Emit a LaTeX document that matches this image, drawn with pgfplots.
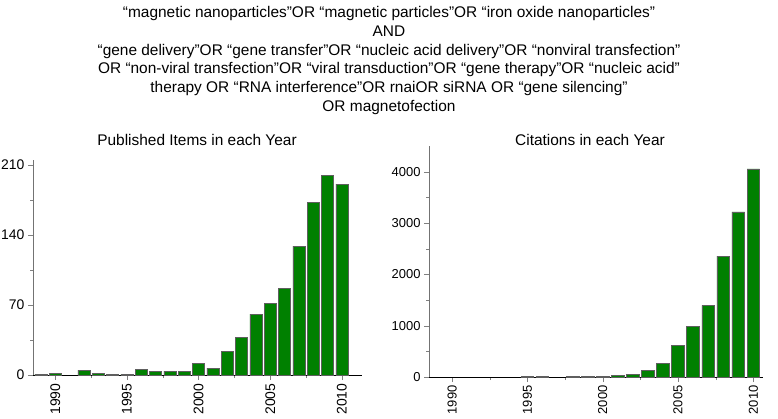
\documentclass[border=0pt]{standalone}
\usepackage{pgfplots}
\pgfplotsset{compat=1.18}
\usepackage{fontspec}
\setmainfont{Liberation Sans}
\definecolor{bargreen}{RGB}{0,128,0}
\definecolor{baredge}{RGB}{95,95,95}
\pgfplotsset{
  mybars/.style={
    scale only axis,
    anchor=south west,
    axis x line=bottom, axis y line=left,
    axis line style={-},
    y axis line style={black!55},
    tick align=outside,
    major tick length=5bp, minor tick length=3bp,
    xtick={1990,1995,2000,2005,2010},
    minor xtick={1992.5,1997.5,2002.5,2007.5},
    tick label style={font=\fontsize{14}{16}\selectfont},
    x tick label style={rotate=90, anchor=east},
    /pgf/number format/assume math mode=true,
    /pgf/number format/1000 sep={},
    ymin=0,
    ybar, bar width=0.84,
  },
  bstyle/.style={fill=bargreen, draw=baredge, line width=0.6pt},
}
\begin{document}
\begin{tikzpicture}
\useasboundingbox (0,0) rectangle (778bp,-419bp);
\node[align=center, font=\fontsize{15.5}{18.8}\selectfont] at (389bp,-60.5bp) {%
“magnetic nanoparticles”OR “magnetic particles”OR “iron oxide nanoparticles”\\
AND\\
“gene delivery”OR “gene transfer”OR “nucleic acid delivery”OR “nonviral transfection”\\
OR “non-viral transfection”OR “viral transduction”OR “gene therapy”OR “nucleic acid”\\
therapy OR “RNA interference”OR rnaiOR siRNA OR “gene silencing”\\
OR magnetofection};
\node[font=\fontsize{15.5}{18}\selectfont] at (197bp,-140bp) {Published Items in each Year};
\node[font=\fontsize{15.5}{18}\selectfont] at (590bp,-140bp) {Citations in each Year};

\begin{axis}[mybars, at={(33bp,-375bp)}, width=329bp, height=215bp,
  xmin=1988.45, xmax=2011.4, ymax=215,
  ytick={0,70,140,210}, minor ytick={35,105,175}]
\addplot[bstyle] coordinates {
(1989,1) (1990,2) (1992,5) (1993,2) (1994,1) (1995,1) (1996,6) (1997,4) (1998,4) (1999,4)
(2000,12) (2001,7) (2002,24) (2003,38) (2004,61) (2005,72) (2006,87) (2007,129)
(2008,173) (2009,200) (2010,191)};
\end{axis}

\begin{axis}[mybars, at={(429bp,-377bp)}, width=334bp, height=231bp,
  xmin=1988.47, xmax=2010.64, ymax=4500,
  tick label style={font=\fontsize{13}{15}\selectfont},
  ytick={0,1000,2000,3000,4000}, minor ytick={500,1500,2500,3500}]
\addplot[bstyle] coordinates {
(1995,6) (1996,6) (1998,12) (1999,14) (2000,18) (2001,28) (2002,45) (2003,123)
(2004,259) (2005,616) (2006,985) (2007,1395) (2008,2357) (2009,3215) (2010,4053)};
\end{axis}
\end{tikzpicture}
\end{document}
